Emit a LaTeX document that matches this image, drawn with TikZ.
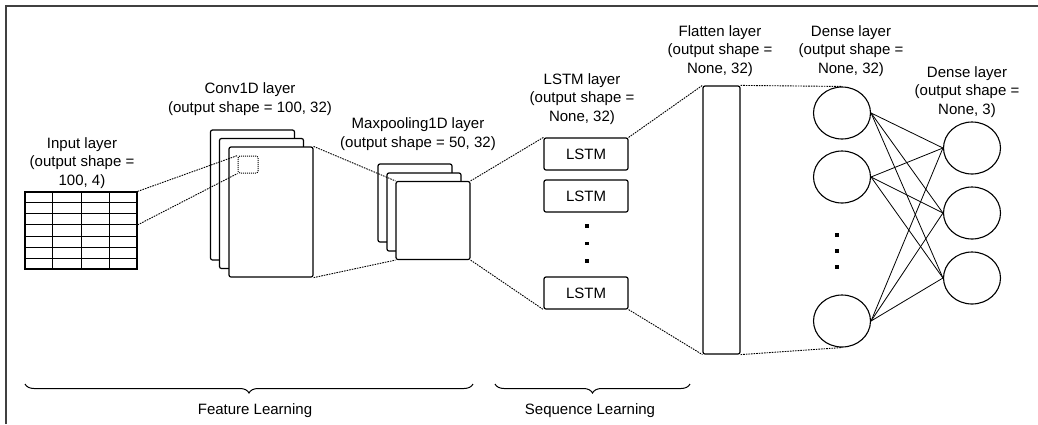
\documentclass[tikz,border=0pt]{standalone}
\usepackage{fontspec}
\setmainfont{Liberation Sans}
\usetikzlibrary{calc,shapes.geometric,decorations.pathreplacing}

\begin{document}
\begin{tikzpicture}[x=1pt,y=-1pt]
		% Styles
		\tikzstyle{cadre}=[line width=1.5pt,black!75]
		\tikzstyle{couche}=[draw,fill=white,line width=1.2pt,rounded corners=2pt,inner sep=0pt]
		\tikzstyle{neurone}=[draw,ellipse,line width=1.1pt,minimum width=57pt,minimum height=52pt,inner sep=0pt]
		\tikzstyle{titre}=[align=center,font=\fontsize{15}{18.5}\selectfont,inner sep=0pt]
		\tikzstyle{pointille}=[line width=0.9pt,dash pattern=on 1.6pt off 1pt]
		\tikzstyle{lien}=[line width=0.8pt]
		\tikzstyle{point}=[fill,minimum size=3.5pt,inner sep=0pt]
		\tikzstyle{grille}=[line width=1pt]
		\tikzstyle{accolade}=[decorate,decoration={brace,mirror,amplitude=9pt},line width=1pt]
		% Dimensions
		\def\LargeurConv{84pt}
		\def\HauteurConv{130pt}
		\def\LargeurMax{74pt}
		\def\HauteurMax{78pt}
		\useasboundingbox (0,0) rectangle (1038,424);
		\draw[cadre] (6,424) -- (6,6) -- (1038,6);
		% Couche d'entree
		\node[couche,rounded corners=0pt,minimum width=112pt,minimum height=77pt] (entree) at (81,230.5) {};
		\foreach \i in {1,...,6}
			\draw[grille] ($(entree.north west)!\i/7!(entree.south west)$) -- ($(entree.north east)!\i/7!(entree.south east)$);
		\foreach \j in {1,2,3}
			\draw[grille] ($(entree.north west)!\j/4!(entree.north east)$) -- ($(entree.south west)!\j/4!(entree.south east)$);
		% Conv1D
		\node[couche,minimum width=\LargeurConv,minimum height=\HauteurConv] (convC) at (252.5,195) {};
		\node[couche,minimum width=\LargeurConv,minimum height=\HauteurConv] (convB) at (261.5,203.5) {};
		\node[couche,minimum width=\LargeurConv,minimum height=\HauteurConv] (convA) at (271,212) {};
		\node[draw,rounded corners=2pt,line width=1pt,dash pattern=on 1pt off 1pt,minimum width=20pt,minimum height=17pt,inner sep=0pt] (filtre) at (248,164.5) {};
		% Maxpooling1D
		\node[couche,minimum width=\LargeurMax,minimum height=\HauteurMax] (maxC) at (415,203) {};
		\node[couche,minimum width=\LargeurMax,minimum height=\HauteurMax] (maxB) at (424,212) {};
		\node[couche,minimum width=\LargeurMax,minimum height=\HauteurMax] (maxA) at (433,220.5) {};
		% LSTM
		\node[couche,titre,minimum width=84pt,minimum height=32pt] (lstmA) at (586,154) {LSTM};
		\node[couche,titre,minimum width=84pt,minimum height=32pt] (lstmB) at (586,196) {LSTM};
		\node[couche,titre,minimum width=84pt,minimum height=32pt] (lstmD) at (586,293) {LSTM};
		\node[point] (pA) at (587,226) {};
		\node[point] (pB) at (587,243.5) {};
		\node[point] (pC) at (587,261) {};
		% Flatten
		\node[couche,minimum width=37pt,minimum height=268pt] (aplat) at (721.5,220) {};
		% Dense
		\node[neurone] (dA) at (842,113) {};
		\node[neurone] (dB) at (842,177) {};
		\node[neurone] (dD) at (842,321) {};
		\node[point] (qA) at (837,235) {};
		\node[point] (qB) at (837,251) {};
		\node[point] (qC) at (837,267) {};
		% Sortie
		\node[neurone] (sA) at (972,148) {};
		\node[neurone] (sB) at (972,213) {};
		\node[neurone] (sC) at (972,278) {};
		% Titres
		\node[titre] (tEntree) at (82,163) {Input layer\\(output shape =\\100, 4)};
		\node[titre] (tConv) at (250,99) {Conv1D layer\\(output shape = 100, 32)};
		\node[titre] (tMax) at (418,134) {Maxpooling1D layer\\(output shape = 50, 32)};
		\node[titre] (tLstm) at (582,99) {LSTM layer\\(output shape =\\None, 32)};
		\node[titre] (tAplat) at (720,51) {Flatten layer\\(output shape =\\None, 32)};
		\node[titre] (tDense) at (851,51) {Dense layer\\(output shape =\\None, 32)};
		\node[titre] (tSortie) at (967,92) {Dense layer\\(output shape =\\None, 3)};
		% Arcs
		\coordinate (entreeC) at ($(entree.north east)!3/7!(entree.south east)$);
		\draw[pointille] (entree.north east) -- (filtre.north west);
		\draw[pointille] (entreeC) -- (filtre.south west);
		\draw[pointille] (convA.north east) -- (maxA.north west);
		\draw[pointille] (convA.south east) -- (maxA.south west);
		\draw[pointille] (maxA.north east) -- (lstmA.north west);
		\draw[pointille] (maxA.south east) -- (lstmD.south west);
		\draw[pointille] (lstmA.north east) -- (aplat.north west);
		\draw[pointille] (lstmD.south east) -- (aplat.south west);
		\draw[pointille] (aplat.north east) -- (dA.north);
		\draw[pointille] (aplat.south east) -- (dD.south);
		\foreach \a in {dA,dB,dD}
			\foreach \b in {sA,sB,sC}
				\draw[lien] (\a.east) -- (\b.west);
		% Accolades
		\coordinate (fA) at (25,384);
		\coordinate (fB) at (473,384);
		\coordinate (sqA) at (495,384);
		\coordinate (sqB) at (690,384);
		\draw[accolade] (fA) -- (fB);
		\draw[accolade] (sqA) -- (sqB);
		\node[titre] (lFeature) at (255,411) {Feature Learning};
		\node[titre] (lSequence) at (590,411) {Sequence Learning};
	\end{tikzpicture}
\end{document}
